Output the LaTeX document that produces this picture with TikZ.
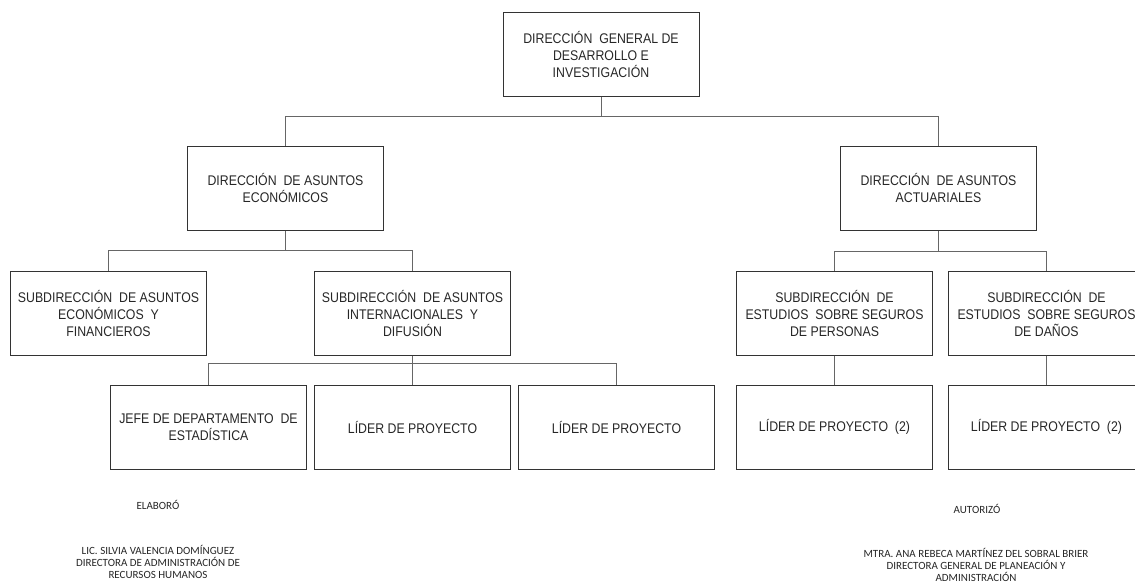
\documentclass[tikz,border=0pt]{standalone}
\usepackage{fontspec}
\setmainfont{Liberation Sans}[FakeStretch=0.88]
\newfontfamily\sigfont{Carlito}
\usetikzlibrary{positioning}

\begin{document}
\begin{tikzpicture}[x=0.5pt,y=-0.5pt,
    unit/.style={rectangle,draw=black!80,line width=0.5pt,minimum width=98pt,minimum height=42pt,align=center,inner sep=1pt,font=\fontsize{7}{8.5}\selectfont,text=black!85},
    link/.style={draw=black!60,line width=0.5pt},
    sign/.style={align=center,font=\sigfont\fontsize{5.5}{6}\selectfont,text=black!85}
]
\useasboundingbox (0,0) rectangle (1135,584);

% === General direction (top) ===
\node[unit] (top) at (601,54) {DIRECCIÓN~ GENERAL DE\\DESARROLLO E\\INVESTIGACIÓN};

% === Directions ===
\node[unit] (econ) at (285.5,188) {DIRECCIÓN~ DE ASUNTOS\\ECONÓMICOS};
\node[unit] (act) at (938.5,188) {DIRECCIÓN~ DE ASUNTOS\\ACTUARIALES};

% === Subdirections ===
\node[unit] (sub1) at (108.5,313) {SUBDIRECCIÓN~ DE ASUNTOS\\ECONÓMICOS~ Y\\FINANCIEROS};
\node[unit] (sub2) at (412.5,313) {SUBDIRECCIÓN~ DE ASUNTOS\\INTERNACIONALES~ Y\\DIFUSIÓN};
\node[unit] (sub3) at (834.5,313) {SUBDIRECCIÓN~ DE\\ESTUDIOS~ SOBRE SEGUROS\\DE PERSONAS};
\node[unit] (sub4) at (1046.5,313) {SUBDIRECCIÓN~ DE\\ESTUDIOS~ SOBRE SEGUROS\\DE DAÑOS};

% === Bottom level ===
\node[unit] (jefe) at (208.5,427) {JEFE DE DEPARTAMENTO~ DE\\ESTADÍSTICA};
\node[unit] (lider1) at (412.5,427) {LÍDER DE PROYECTO};
\node[unit] (lider2) at (616.5,427) {LÍDER DE PROYECTO};
\node[unit] (lider3) at (834.5,427) {LÍDER DE PROYECTO~ (2)};
\node[unit] (lider4) at (1046.5,427) {LÍDER DE PROYECTO~ (2)};

% === Connectors ===
\path (top.south) ++(0,20) coordinate (b0);
\path (econ.south) ++(0,20) coordinate (b1);
\path (act.south) ++(0,21) coordinate (b2);
\path (sub2.south) ++(0,8) coordinate (b3);

\draw[link] (top.south) -- (b0) -| (econ.north);
\draw[link] (b0) -| (act.north);
\draw[link] (econ.south) -- (b1) -| (sub1.north);
\draw[link] (b1) -| (sub2.north);
\draw[link] (act.south) -- (b2) -| (sub3.north);
\draw[link] (b2) -| (sub4.north);
\draw[link] (sub2.south) -- (b3) -| (jefe.north);
\draw[link] (b3) -| (lider2.north);
\draw[link] (b3) -- (lider1.north);
\draw[link] (sub3.south) -- (lider3.north);
\draw[link] (sub4.south) -- (lider4.north);

% === Signatures ===
\node[sign] (elab) at (158,505) {ELABORÓ};
\node[sign] (elabname) at (158,562) {LIC. SILVIA VALENCIA DOMÍNGUEZ\\DIRECTORA DE ADMINISTRACIÓN DE\\RECURSOS HUMANOS};
\node[sign] (aut) at (977,509) {AUTORIZÓ};
\node[sign] (autname) at (976,565) {MTRA. ANA REBECA MARTÍNEZ DEL SOBRAL BRIER\\DIRECTORA GENERAL DE PLANEACIÓN Y\\ADMINISTRACIÓN};

\end{tikzpicture}
\end{document}
